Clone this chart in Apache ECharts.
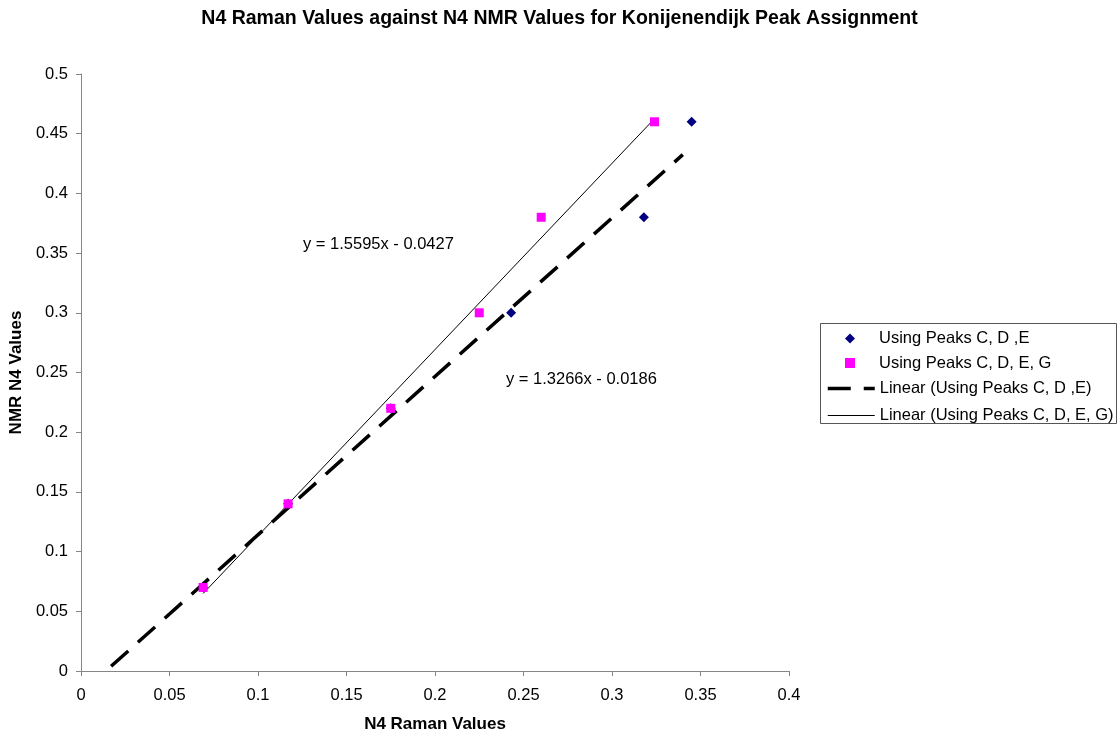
<!DOCTYPE html>
<html>
<head>
<meta charset="utf-8">
<script src="https://cdn.jsdelivr.net/npm/echarts@6/dist/echarts.min.js"></script>
<style>
  html, body { margin: 0; padding: 0; background: #fff; }
  #chart { width: 1119px; height: 738px; }
</style>
</head>
<body>
<div id="chart"></div>
<script>
// Measured N4 fractions: Raman (x) against NMR (y)
const ramanCDE  = [0.069, 0.117, 0.175, 0.243, 0.318, 0.345];
const nmrCDE    = [0.07, 0.14, 0.22, 0.30, 0.38, 0.46];
const ramanCDEG = [0.069, 0.117, 0.175, 0.225, 0.260, 0.324];
const nmrCDEG   = [0.07, 0.14, 0.22, 0.30, 0.38, 0.46];

// Linear fits: slope, intercept and the x span each fitted line covers
const fitCDE  = { slope: 1.3266, intercept: -0.0186 };
const fitCDEG = { slope: 1.5595, intercept: -0.0427 };
const spanCDE  = [0.017, 0.340];
const spanCDEG = [0.069, 0.324];

const seriesNames = [
  'Using Peaks C, D ,E',
  'Using Peaks C, D, E, G',
  'Linear (Using Peaks C, D ,E)',
  'Linear (Using Peaks C, D, E, G)'
];

const FONT = 'Liberation Sans, Arial, sans-serif';
const DASH = [23, 13];

function pairs(xs, ys) { return xs.map((x, i) => [x, ys[i]]); }
function fitLine(fit, span) { return span.map(x => [x, fit.slope * x + fit.intercept]); }
function equation(fit) {
  const sign = fit.intercept < 0 ? ' - ' : ' + ';
  return 'y = ' + fit.slope.toFixed(4) + 'x' + sign + Math.abs(fit.intercept).toFixed(4);
}

const chart = echarts.init(document.getElementById('chart'), null, { renderer: 'canvas' });

const legendText = { fontFamily: FONT, fontSize: 16.5, color: '#000', lineHeight: 17 };

chart.setOption({
  animation: false,
  backgroundColor: '#ffffff',
  textStyle: { fontFamily: FONT },
  title: {
    text: 'N4 Raman Values against N4 NMR Values for Konijenendijk Peak Assignment',
    left: 'center',
    top: 4,
    textStyle: { fontFamily: FONT, fontSize: 19.5, fontWeight: 'bold', color: '#000' }
  },
  grid: { left: 80, top: 74, right: 330, bottom: 65 },
  xAxis: {
    type: 'value',
    min: 0, max: 0.4, interval: 0.05,
    name: 'N4 Raman Values',
    nameLocation: 'middle',
    nameGap: 45,
    nameTextStyle: { fontFamily: FONT, fontSize: 17, fontWeight: 'bold', color: '#000' },
    axisLine: { show: true, onZero: false, lineStyle: { color: '#868686', width: 1 } },
    axisTick: { show: true, length: 5, lineStyle: { color: '#868686' } },
    axisLabel: { fontFamily: FONT, fontSize: 16.5, color: '#000', margin: 16 },
    splitLine: { show: false }
  },
  yAxis: {
    type: 'value',
    min: 0, max: 0.5, interval: 0.05,
    name: 'NMR N4 Values',
    nameLocation: 'middle',
    nameGap: 52,
    nameTextStyle: { fontFamily: FONT, fontSize: 17, fontWeight: 'bold', color: '#000' },
    axisLine: { show: true, onZero: false, lineStyle: { color: '#868686', width: 1 } },
    axisTick: { show: true, length: 5, lineStyle: { color: '#868686' } },
    axisLabel: { fontFamily: FONT, fontSize: 16.5, color: '#000', margin: 13 },
    splitLine: { show: false }
  },
  legend: [
    {
      data: [seriesNames[0], seriesNames[1]],
      orient: 'vertical',
      left: 845,
      top: 330,
      itemWidth: 10,
      itemHeight: 10,
      itemGap: 7.5,
      padding: 0,
      selectedMode: false,
      textStyle: Object.assign({ padding: [0, 0, 0, 19] }, legendText)
    },
    {
      data: [
        { name: seriesNames[2], lineStyle: { width: 3.5, type: DASH, color: '#000' } },
        { name: seriesNames[3], lineStyle: { width: 1, type: 'solid', color: '#000' } }
      ],
      orient: 'vertical',
      left: 826,
      top: 380,
      itemWidth: 47,
      itemHeight: 14,
      itemGap: 10,
      padding: 0,
      selectedMode: false,
      itemStyle: { opacity: 0 },
      textStyle: legendText
    }
  ],
  graphic: [
    {
      type: 'rect',
      shape: { x: 820.5, y: 323.5, width: 296, height: 100 },
      style: { fill: 'none', stroke: '#555', lineWidth: 1 },
      z: 0
    },
    {
      type: 'text',
      left: 303,
      top: 236,
      style: { text: equation(fitCDEG), fontFamily: FONT, fontSize: 16.5, fill: '#000' }
    },
    {
      type: 'text',
      left: 506,
      top: 371,
      style: { text: equation(fitCDE), fontFamily: FONT, fontSize: 16.5, fill: '#000' }
    }
  ],
  series: [
    {
      name: seriesNames[2],
      type: 'line',
      data: fitLine(fitCDE, spanCDE),
      symbol: 'none',
      lineStyle: { color: '#000', width: 3.5, type: DASH, cap: 'butt' },
      itemStyle: { color: '#000' },
      z: 2
    },
    {
      name: seriesNames[3],
      type: 'line',
      data: fitLine(fitCDEG, spanCDEG),
      symbol: 'none',
      lineStyle: { color: '#000', width: 1, type: 'solid' },
      itemStyle: { color: '#000' },
      z: 2
    },
    {
      name: seriesNames[0],
      type: 'scatter',
      data: pairs(ramanCDE, nmrCDE),
      symbol: 'diamond',
      symbolSize: 10,
      itemStyle: { color: '#000080', opacity: 1 },
      z: 3
    },
    {
      name: seriesNames[1],
      type: 'scatter',
      data: pairs(ramanCDEG, nmrCDEG),
      symbol: 'rect',
      symbolSize: 9,
      itemStyle: { color: '#ff00ff', opacity: 1 },
      z: 4
    }
  ]
});
</script>
</body>
</html>
